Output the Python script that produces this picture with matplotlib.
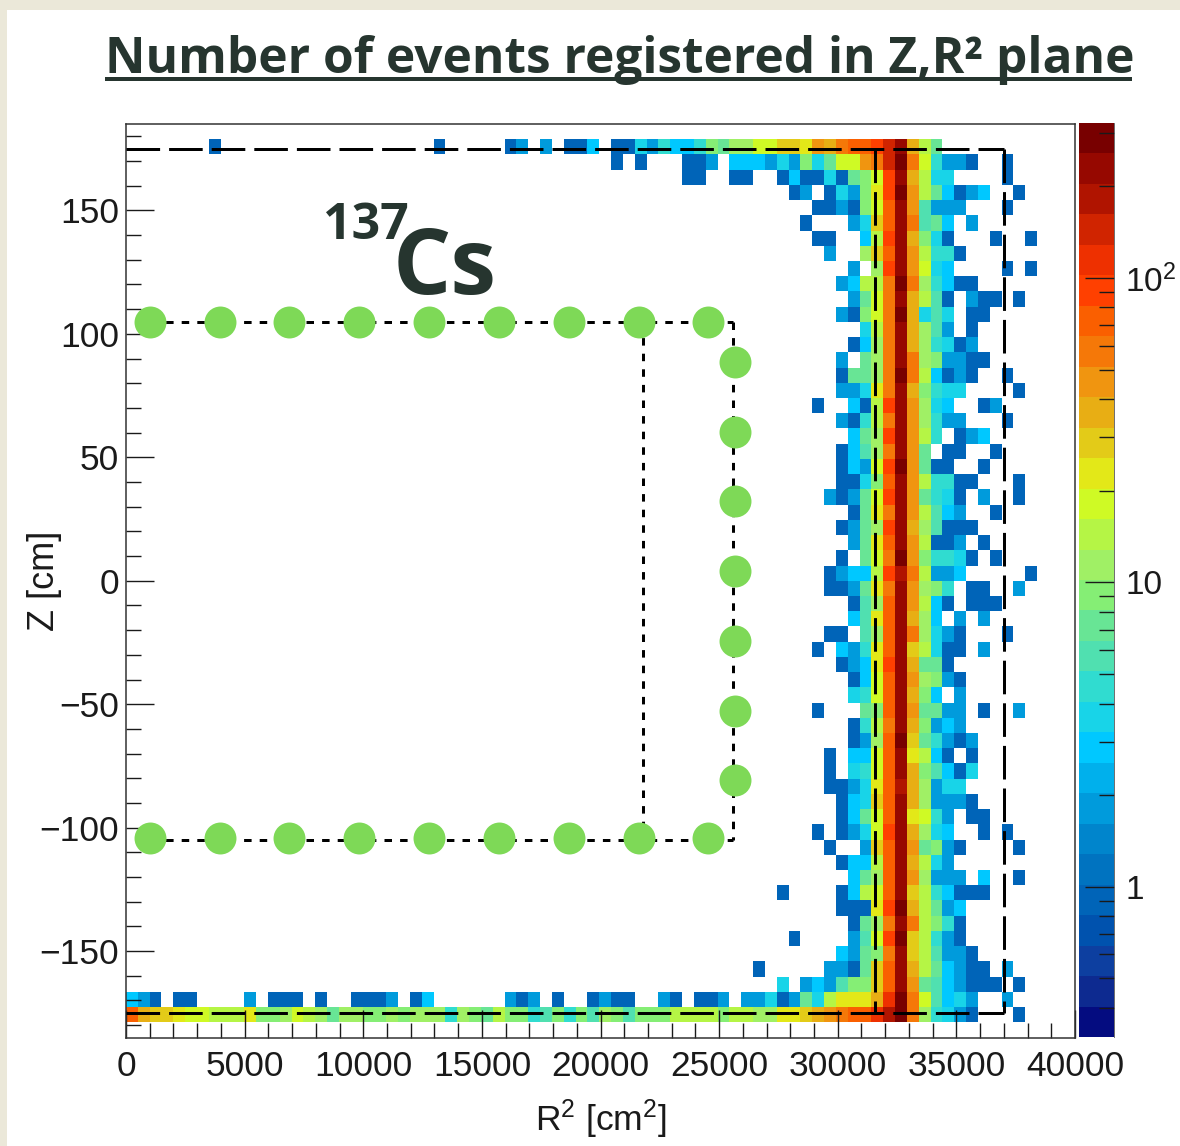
import matplotlib
matplotlib.use('Agg')
import matplotlib.pyplot as plt
import numpy as np
from matplotlib.colors import ListedColormap, LogNorm
from matplotlib.patches import Rectangle
from matplotlib.ticker import FixedLocator, MultipleLocator, NullFormatter

W, H = 1180, 1146

# Counts per bin, one letter per bin ('.' = no events)
COUNT_OF = dict(zip('.abcdefghijklmnopqrstuvw',
                    [0, 1, 2, 3, 4, 5, 6, 8, 10, 12, 15, 18, 23, 29, 36, 45,
                     57, 72, 90, 115, 145, 180, 230, 290]))

# Bins 54..77 in R2, from the top row (58) down to row 1
right_rows = [
    'kmmlonpqqrtvnjg.........',
    'bdbhdgkkoptwpkebba..a...',
    '.acaadaghkrvnjdd....a...',
    '..ab.adbhlrwojgcabc..a..',
    '....aabahkqvofbbb...a...',
    '...a...bdmqvpfgc.b......',
    '....aa..cjrvnhda...a..a.',
    '.....b..imqvojeea.......',
    '.......b.irvokdc....a.a.',
    '......bcjjpwpiecaa......',
    '.......bgkpvnjfa.baa.a..',
    '......bahkpwndfd.aa.....',
    '........djpvnifb.a......',
    '.......acipvniedab......',
    '......b.gipvpihbbaa.....',
    '......aggipwpjcaba..a...',
    '......bbdlpvnhedd....a..',
    '....a..cajrvoidc..ab....',
    '......baejpvoiebb...a...',
    '.......cgirvoje.abc.....',
    '......acfipvog.aa..a....',
    '......acbkrwogaa..a.....',
    '......aadhqvojeeaa...a..',
    '.....babgkrvogeda.b..a..',
    '.......aglpvojfcb..a....',
    '......abgirvnifaaa......',
    '.......bglqvojaab.a.....',
    '......a.gkpwoheeda.a....',
    '.....abccjrupjbbc.....a.',
    '.....aabglpvoihe.aa..b..',
    '.......afiqvojca.aaa....',
    '.......cflqvnic.b.b.....',
    '.....aa.fiqvpidba...a...',
    '....a.cbelqvmjdaa.b.....',
    '......abclrvngga........',
    '.......ackqvoihba.......',
    '.......dekqvnhc.b.......',
    '....a...ghqvoggbb.a..b..',
    '.......aejpvnhbcb.......',
    '.......abiqwmgebab......',
    '.....a.cckqvljca.a......',
    '.....a.dekqvnhfcad......',
    '.....aabdlqunibdd.......',
    '......acdmqvnibbba......',
    '......acgkqvlkeb.aa.....',
    '....a.abdkrvnidc..a.a...',
    '.....a..bmqvoghba....a..',
    '......accjqvnjdb........',
    '.......cgiqvoibbb.c..a..',
    '.a....acjkqvmjecaaa.....',
    '......aaalrwnjgbc.......',
    '.......agipvpjhea.......',
    '..a....bfkrwmjeba.......',
    '......cbghpvmjfbba......',
    '.....bbagmqvnjgcbaa.b...',
    '.d.bcbfhhmqvogfcbaaa.a..',
    'dabgdjlllnswpkfcdb..b...',
    'illmnopqqsuwpiedba...a..',
]

# Bins 0..53 in R2 for the rows that reach further in
left_rows = {
    58: '.......a..................a.....ab.b.aac.aadbecceh' + 'giik',
    57: '.........................................a.a...aab' + '.ccc',
    56: '...............................................aa.' + '.aa.',
    4:  '.....................................................a',
    2:  'cba.aa....b.aaa.a..aaab.ac......bab.a..abaa..ba.aa' + 'b.bb',
    1:  'qnmmlkkjjjlhhikjigiihhihiiieihgjhhefhehfihfhhhjjjj' + 'hjji',
}

# Colour of each of the 30 palette levels, bottom to top
palette = ['#040c80', '#0d2a90', '#0d3fa0', '#0052ae', '#0064b8', '#0073c0',
           '#0085cc', '#009bdc', '#00b0ec', '#00c8ff', '#18d4e8', '#30dcd0',
           '#50e0b0', '#68e595', '#85ee75', '#a0f065', '#b5f545', '#cffa25',
           '#e3e818', '#e3cb18', '#e8ae14', '#f09510', '#f57808', '#fa5f00',
           '#ff4000', '#ee3000', '#d02400', '#b01400', '#960800', '#780000']

# Calibration points
top_r2 = [1012, 3962, 6870, 9820, 12771, 15722, 18672, 21622, 24531]
side_r2 = 25669
side_z = [88.5, 60.1, 32.2, 3.8, -24.5, -52.8, -80.8]
ring_z = 105
lower_z = -104
lower_line_z = -105

fiducial_r2 = [31570, 37000]
fiducial_z = 175
inner_r2 = 21800
outer_r2 = 25570

plt.rcParams['font.family'] = ['Liberation Sans', 'DejaVu Sans']
plt.rcParams['mathtext.default'] = 'regular'
plt.rcParams['axes.unicode_minus'] = True

counts = np.zeros((60, 80))
for i, row in enumerate(right_rows):
    counts[58 - i, 54:54 + len(row)] = [COUNT_OF[c] for c in row]
for r, row in left_rows.items():
    counts[r, :len(row)] = [COUNT_OF[c] for c in row]
counts = np.ma.masked_equal(counts, 0)

r2_edges = np.linspace(0, 39900, 81)
z_edges = np.linspace(-185, 185, 61)

cmap = ListedColormap(palette)
norm = LogNorm(vmin=0.321, vmax=323)


def px_axes(left, top, right, bottom):
    return [left / W, 1 - bottom / H, (right - left) / W, (bottom - top) / H]


def px_text(fig, x, y, s, **kw):
    return fig.text(x / W, 1 - y / H, s, **kw)


fig = plt.figure(figsize=(W / 100, H / 100), dpi=100, facecolor='#ebe8d9')
fig.add_artist(Rectangle((7 / W, 0), 1 - 7 / W, 1 - 10 / H, transform=fig.transFigure,
                         facecolor='white', edgecolor='none', zorder=-5))

ax = fig.add_axes(px_axes(126, 124, 1075, 1037.5))
ax.pcolormesh(r2_edges, z_edges, counts, cmap=cmap, norm=norm)
ax.set_xlim(0, 40000)
ax.set_ylim(-185, 185)

for s in ax.spines.values():
    s.set_linewidth(1.1)
    s.set_color('#333333')

ax.xaxis.set_major_locator(MultipleLocator(5000))
ax.xaxis.set_minor_locator(MultipleLocator(1000))
ax.yaxis.set_major_locator(MultipleLocator(50))
ax.yaxis.set_minor_locator(MultipleLocator(10))
ax.tick_params(which='major', direction='in', length=20, width=1.0, labelsize=25.5,
               colors='#1a1a1a')
ax.tick_params(which='minor', direction='in', length=10.5, width=1.0, colors='#1a1a1a')
ax.tick_params(axis='x', which='major', pad=9)
ax.tick_params(axis='y', which='major', pad=5)
ax.set_xlabel(r'R$^{2}$ [cm$^{2}$]', fontsize=25.5, color='#1a1a1a')
ax.xaxis.set_label_coords(0.5, -0.066)
ax.set_ylabel('Z [cm]', fontsize=26, color='#1a1a1a')
ax.yaxis.set_label_coords(-0.067, 0.5)

# Fiducial volume
dash = (0, (11.2, 3.0))
for xs, ys in [((0, fiducial_r2[1]), (fiducial_z, fiducial_z)),
               ((0, fiducial_r2[1]), (-fiducial_z, -fiducial_z)),
               ((fiducial_r2[1], fiducial_r2[1]), (fiducial_z, -fiducial_z)),
               ((fiducial_r2[0], fiducial_r2[0]), (fiducial_z, -fiducial_z))]:
    ax.plot(xs, ys, color='black', lw=2.16, linestyle=dash, zorder=3)

# Source path
dot = (0, (2.5, 2.7))
for xs, ys in [((top_r2[0], outer_r2), (ring_z, ring_z)),
               ((top_r2[0], outer_r2), (lower_line_z, lower_line_z)),
               ((outer_r2, outer_r2), (ring_z, lower_line_z)),
               ((inner_r2, inner_r2), (ring_z, lower_line_z))]:
    ax.plot(xs, ys, color='black', lw=2.16, linestyle=dot, zorder=3)

ax.plot(top_r2, [ring_z] * len(top_r2), 'o', color='#7ed957', ms=23, mew=0, zorder=4)
ax.plot(top_r2, [lower_z] * len(top_r2), 'o', color='#7ed957', ms=23, mew=0, zorder=4)
ax.plot([side_r2] * len(side_z), side_z, 'o', color='#7ed957', ms=23, mew=0, zorder=4)

# Colour bar
cax = fig.add_axes(px_axes(1079, 123, 1114, 1037))
levels = np.geomspace(0.321, 323, 31)
cax.pcolormesh([0, 1], levels, np.sqrt(levels[:-1] * levels[1:])[:, None], cmap=cmap, norm=norm)
cax.set_yscale('log')
cax.set_ylim(0.321, 323)
cax.set_xticks([])
cax.yaxis.tick_right()
cax.yaxis.set_major_locator(FixedLocator([1, 10, 100]))
cax.set_yticklabels(['1', '10', r'10$^{2}$'])
cax.yaxis.set_minor_locator(FixedLocator([0.4, 0.5, 0.6, 0.7, 0.8, 0.9, 2, 3, 4, 5, 6, 7, 8, 9,
                                          20, 30, 40, 50, 60, 70, 80, 90, 200, 300]))
cax.yaxis.set_minor_formatter(NullFormatter())
cax.tick_params(which='major', direction='in', length=21, width=1.0, labelsize=24,
                colors='#1a1a1a', pad=8)
cax.tick_params(which='minor', direction='in', length=11, width=1.0, colors='#1a1a1a')
for name, s in cax.spines.items():
    s.set_visible(name == 'right')
    s.set_linewidth(0.6)
    s.set_color('#555555')

# Slide text on top
ink = '#26352f'
px_text(fig, 105, 73, 'Number of events registered in Z,R² plane', family='Open Sans',
        fontweight='bold', fontsize=35.7, color=ink, ha='left', va='baseline')
fig.add_artist(Rectangle((105 / W, 1 - 81 / H), 1027 / W, 3.6 / H, transform=fig.transFigure,
                         facecolor=ink, edgecolor='none'))
px_text(fig, 323, 239, '137', family='Open Sans', fontweight='bold', fontsize=36,
        color=ink, ha='left', va='baseline')
px_text(fig, 393, 294, 'Cs', family='Open Sans', fontweight='bold', fontsize=66,
        color=ink, ha='left', va='baseline')

fig.savefig('out.png', dpi=100, facecolor=fig.get_facecolor())
